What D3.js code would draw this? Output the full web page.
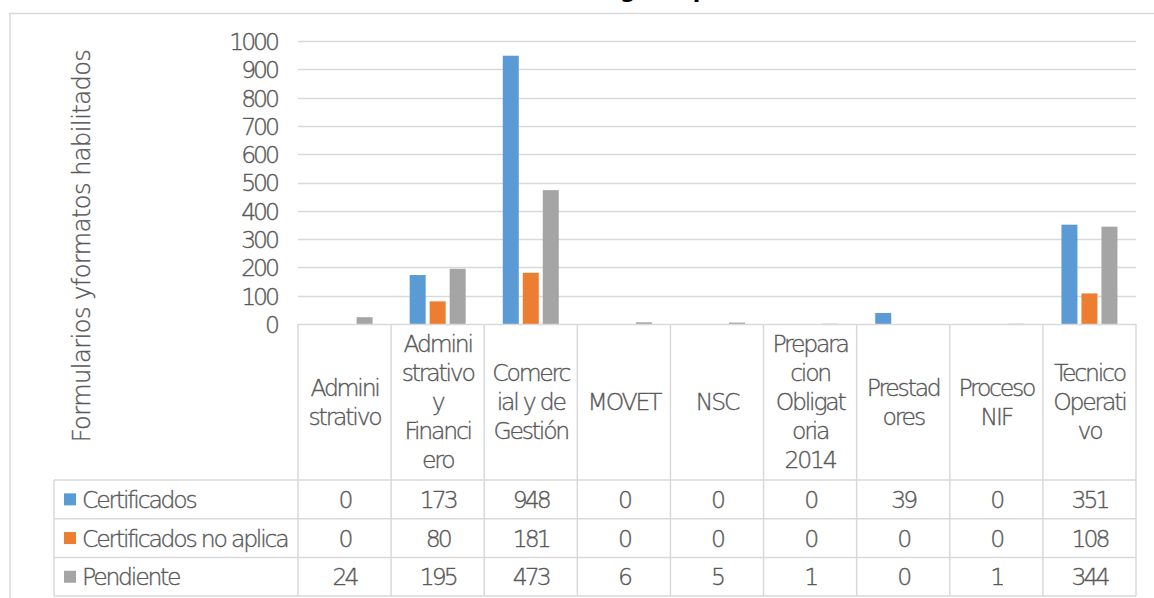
<!DOCTYPE html>
<html><head><meta charset="utf-8">
<script src="https://cdn.jsdelivr.net/npm/d3@7/dist/d3.min.js"></script>
<style>
html,body{margin:0;padding:0;background:#fff;overflow:hidden}
svg text{font-family:"DejaVu Sans",sans-serif;font-weight:200;fill:#595959;stroke:#595959;stroke-width:0.35px}
</style></head><body>
<svg id="c" width="1154" height="598"></svg>
<script>
// ---- data ----
const categories = ["Administrativo","Administrativo y Financiero","Comercial y de Gestión","MOVET","NSC","Preparacion Obligatoria 2014","Prestadores","Proceso NIF","Tecnico Operativo"];
const categoryLines = [["Admini","strativo"],["Admini","strativo","y","Financi","ero"],["Comerc","ial y de","Gestión"],["MOVET"],["NSC"],["Prepara","cion","Obligat","oria","2014"],["Prestad","ores"],["Proceso","NIF"],["Tecnico","Operati","vo"]];
const seriesNames = ["Certificados","Certificados no aplica","Pendiente"];
const certificados = [0,173,948,0,0,0,39,0,351];
const certificadosNoAplica = [0,80,181,0,0,0,0,0,108];
const pendiente = [24,195,473,6,5,1,0,1,344];
const seriesColors = ["#5B9BD5","#ED7D31","#A5A5A5"];
const yTicks = [0,100,200,300,400,500,600,700,800,900,1000];
const yLabel = "Formularios yformatos habilitados";
const title = "Formularios habilitados según tipo";

const seriesValues = [certificados, certificadosNoAplica, pendiente];

// ---- layout ----
const W = 1154, H = 598;
const plotL = 298, plotR = 1136, plotT = 41, plotB = 324;
const tableL = 54, headerB = 480, rowH = 38.7;
const grid = "#d9d9d9";
const fs = 23.5, ls = "-2.2px";

const svg = d3.select("#c");

const x = d3.scaleBand().domain(categories).range([plotL, plotR]).padding(0);
const y = d3.scaleLinear().domain([0, 1000]).range([plotB, plotT]);
const groupW = 56;
const xs = d3.scaleBand().domain(seriesNames).range([0, groupW]).paddingInner(0.2).paddingOuter(0);

// outer chart border
svg.append("path").attr("d", `M9,13.5H${W}M10,13.5V${H}`).attr("stroke", grid).attr("stroke-width", 1.5).attr("fill", "none");

// title (mostly clipped at top)
const t = svg.append("text").attr("y", -2).style("font-weight", "bold").style("stroke", "none")
  .style("fill", "#000").style("font-size", "22px").text(title);
const gi = title.indexOf("g");
const gx = t.node().getStartPositionOfChar(gi).x;
t.attr("x", 620 - gx);

// gridlines
svg.append("g").selectAll("line").data(yTicks.slice(1)).join("line")
  .attr("x1", plotL).attr("x2", plotR)
  .attr("y1", d => Math.round(y(d)) + 0.5).attr("y2", d => Math.round(y(d)) + 0.5)
  .attr("stroke", grid).attr("stroke-width", 1.5);

// y axis labels via d3 axis
const yAxis = svg.append("g").attr("transform", `translate(${plotL - 21},0)`)
  .call(d3.axisLeft(y).tickValues(yTicks).tickFormat(d3.format("d")).tickSize(0).tickPadding(0));
yAxis.select(".domain").remove();
yAxis.selectAll("text").style("font-size", fs + "px").style("letter-spacing", "-3px")
  .attr("font-family", null).attr("fill", null).style("fill", "#595959").attr("dy", "0.36em");

// y axis title
svg.append("text").attr("transform", `translate(90,246) rotate(-90)`)
  .attr("text-anchor", "middle").style("font-size", "24px").style("letter-spacing", "-0.5px")
  .text(yLabel);

// bars
const bars = [];
categories.forEach((c, i) => seriesNames.forEach((s, j) => bars.push({c, s, j, v: seriesValues[j][i]})));
svg.append("g").selectAll("rect").data(bars).join("rect")
  .attr("x", d => x(d.c) + (x.bandwidth() - groupW) / 2 + xs(d.s))
  .attr("width", xs.bandwidth())
  .attr("y", d => y(d.v))
  .attr("height", d => plotB - y(d.v))
  .attr("fill", d => seriesColors[d.j]);

// table lines
const tl = svg.append("g").attr("stroke", grid).attr("stroke-width", 1.5).attr("fill", "none");
const tableB = headerB + rowH * 3;
tl.append("line").attr("x1", plotL).attr("x2", plotR).attr("y1", plotB + 0.5).attr("y2", plotB + 0.5);
[0, 1, 2, 3].forEach(k => tl.append("line").attr("x1", tableL).attr("x2", plotR)
  .attr("y1", headerB + rowH * k).attr("y2", headerB + rowH * k));
tl.append("line").attr("x1", tableL).attr("x2", tableL).attr("y1", headerB).attr("y2", tableB);
tl.selectAll(".v").data(categories.concat(["__end"])).join("line")
  .attr("x1", (d, i) => plotL + x.step() * i).attr("x2", (d, i) => plotL + x.step() * i)
  .attr("y1", plotB).attr("y2", tableB);

// category header labels
const lineH = 29, headerMid = (plotB + headerB) / 2;
categories.forEach((c, i) => {
  const lines = categoryLines[i];
  const cx = x(c) + x.bandwidth() / 2;
  const tx = svg.append("text").attr("text-anchor", "middle")
    .style("font-size", fs + "px").style("letter-spacing", ls);
  lines.forEach((ln, k) => {
    tx.append("tspan").attr("x", cx)
      .attr("y", headerMid + (k - (lines.length - 1) / 2) * lineH)
      .attr("dy", "0.36em").text(ln);
  });
});

// data table rows
seriesNames.forEach((s, j) => {
  const cy = headerB + rowH * (j + 0.5);
  svg.append("rect").attr("x", 64).attr("y", cy - 6).attr("width", 12).attr("height", 12).attr("fill", seriesColors[j]);
  svg.append("text").attr("x", 82).attr("y", cy).attr("dy", "0.36em")
    .style("font-size", fs + "px").style("letter-spacing", ls).text(s);
  svg.append("g").selectAll("text").data(seriesValues[j]).join("text")
    .attr("x", (d, i) => x(categories[i]) + x.bandwidth() / 2)
    .attr("y", cy).attr("dy", "0.36em").attr("text-anchor", "middle")
    .style("font-size", fs + "px").style("letter-spacing", "-3px").text(d => d);
});
</script>
</body></html>
